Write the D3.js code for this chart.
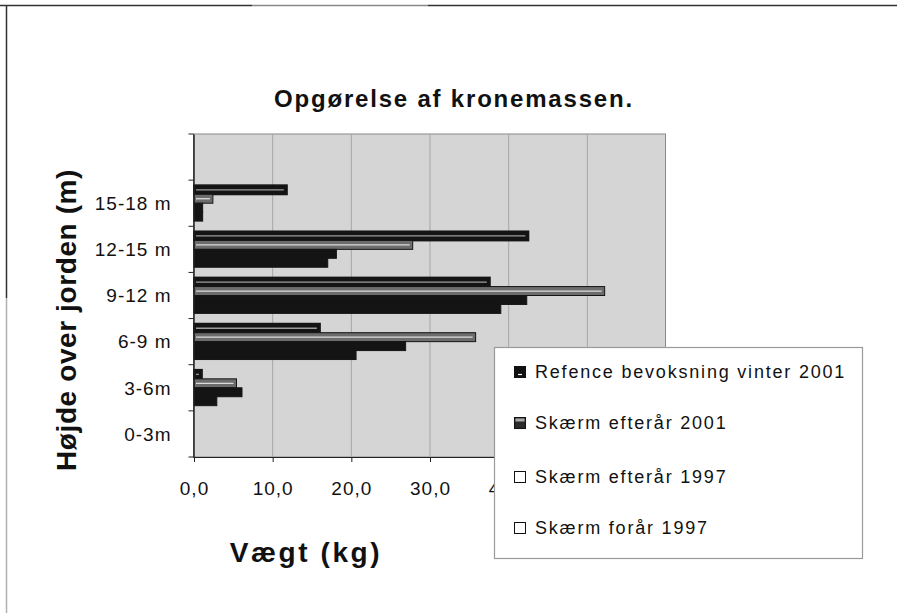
<!DOCTYPE html>
<html lang="da">
<head>
<meta charset="utf-8">
<title>Opgørelse af kronemassen</title>
<style>
  body { margin:0; background:#fff; }
  svg text { font-family:"Liberation Sans", Arial, sans-serif; fill:#111; }
  .tick text { font-size:19px; letter-spacing:1px; }
  .legend text { font-size:18px; letter-spacing:1.8px; }
</style>
</head>
<body>
<svg id="chart" width="897" height="613"></svg>
<script src="https://cdnjs.cloudflare.com/ajax/libs/d3/7.8.5/d3.min.js"></script>
<script>
// categories from top to bottom (top band is empty, as in the original)
var categories = ["", "15-18 m", "12-15 m", "9-12 m", "6-9 m", "3-6m", "0-3m"];

// series values, same order as categories
var refence2001   = [null, 1.1, 17.0, 39.0, 20.6, 2.9, 0];
var skaermEft2001 = [null, 1.1, 18.1, 42.3, 26.9, 6.1, 0];
var skaermEft1997 = [null, 2.4, 27.8, 52.2, 35.8, 5.4, 0];
var skaermFor1997 = [null, 11.8, 42.5, 37.6, 16.0, 1.0, 0];

var seriesNames = ["Refence bevoksning vinter 2001", "Skærm efterår 2001", "Skærm efterår 1997", "Skærm forår 1997"];
var xTicks = [0, 10, 20, 30, 40, 50, 60];

var svg = d3.select("#chart");

// outer frame, scanned so partly faded
svg.append("line").attr("x1", 0).attr("x2", 252).attr("y1", 5.5).attr("y2", 5.5).attr("stroke", "#333").attr("stroke-width", 1.5);
svg.append("line").attr("x1", 252).attr("x2", 428).attr("y1", 5.5).attr("y2", 5.5).attr("stroke", "#888").attr("stroke-width", 1.5);
svg.append("line").attr("x1", 428).attr("x2", 897).attr("y1", 5.5).attr("y2", 5.5).attr("stroke", "#333").attr("stroke-width", 1.5);
svg.append("line").attr("x1", 6.5).attr("x2", 6.5).attr("y1", 5).attr("y2", 298).attr("stroke", "#333").attr("stroke-width", 1.5);
svg.append("line").attr("x1", 6.5).attr("x2", 6.5).attr("y1", 298).attr("y2", 613).attr("stroke", "#b0b0b0").attr("stroke-width", 1.5);

var plotLeft = 193.5, plotRight = 665.5, plotTop = 134, plotBottom = 457;

var x = d3.scaleLinear().domain([0, 60]).range([194, 666]);
var y = d3.scaleBand().domain(categories).range([plotTop, plotBottom]).padding(0);

// bars in each group, top to bottom
var barKeys = [3, 2, 1, 0];
var inner = d3.scaleBand().domain(barKeys).range([0, y.bandwidth()]).paddingInner(0).paddingOuter(0.58);

var values = [refence2001, skaermEft2001, skaermEft1997, skaermFor1997];

// plot area
svg.append("rect")
  .attr("x", plotLeft).attr("y", plotTop)
  .attr("width", plotRight - plotLeft).attr("height", plotBottom - plotTop)
  .attr("fill", "#d5d5d5").attr("stroke", "#8a8a8a").attr("stroke-width", 1);

// vertical grid lines
svg.append("g").selectAll("line")
  .data(xTicks.slice(1, -1))
  .enter().append("line")
  .attr("x1", function(d){ return x(d); })
  .attr("x2", function(d){ return x(d); })
  .attr("y1", plotTop).attr("y2", plotBottom)
  .attr("stroke", "#a5a5a5").attr("stroke-width", 1);

// bars
var rows = [];
categories.forEach(function(c, ci){
  barKeys.forEach(function(s){
    var v = values[s][ci];
    if (v) rows.push({cat: c, s: s, v: v});
  });
});

var bars = svg.append("g");
bars.selectAll("rect")
  .data(rows)
  .enter().append("rect")
  .attr("x", x(0))
  .attr("y", function(d){ return y(d.cat) + inner(d.s); })
  .attr("width", function(d){ return x(d.v) - x(0); })
  .attr("height", inner.bandwidth())
  .attr("fill", function(d){ return d.s === 2 ? "#6c6c6c" : "#141414"; })
  .attr("stroke", "#151515")
  .attr("stroke-width", function(d){ return d.s === 3 ? 2 : 1; });

// light inner line on the two upper bars
bars.selectAll("line")
  .data(rows.filter(function(d){ return d.s >= 2 && x(d.v) - x(0) > 6; }))
  .enter().append("line")
  .attr("x1", x(0) + 2)
  .attr("x2", function(d){ return x(d.v) - 3; })
  .attr("y1", function(d){ return y(d.cat) + inner(d.s) + inner.bandwidth() / 2; })
  .attr("y2", function(d){ return y(d.cat) + inner(d.s) + inner.bandwidth() / 2; })
  .attr("stroke", function(d){ return d.s === 3 ? "#9c9c9c" : "#dcdcdc"; })
  .attr("stroke-width", 1.3);

// x axis
var xAxis = d3.axisBottom(x)
  .tickValues(xTicks)
  .tickSize(5)
  .tickPadding(20)
  .tickFormat(function(d){ return d3.format(".1f")(d).replace(".", ","); });
var gx = svg.append("g")
  .attr("transform", "translate(0," + plotBottom + ")")
  .call(xAxis);
gx.select(".domain").attr("stroke", "#222").attr("d", "M" + plotLeft + ",0.5H" + plotRight);
gx.selectAll(".tick line").attr("stroke", "#222");

// y axis: labels in band centres, ticks on the band edges
var yAxis = d3.axisLeft(y).tickSize(0).tickPadding(22);
var gy = svg.append("g")
  .attr("transform", "translate(" + plotLeft + ",0)")
  .call(yAxis);
gy.select(".domain").attr("stroke", "#222").attr("stroke-width", 1.5);
gy.selectAll(".tick text").attr("dy", "0.36em");
svg.append("g").selectAll("line")
  .data(categories.map(function(c){ return y(c); }).concat([plotBottom]))
  .enter().append("line")
  .attr("x1", plotLeft - 5).attr("x2", plotLeft)
  .attr("y1", function(d){ return d; }).attr("y2", function(d){ return d; })
  .attr("stroke", "#222");

// titles
svg.append("text")
  .attr("x", 454).attr("y", 107)
  .attr("text-anchor", "middle")
  .style("font-size", "24px").style("font-weight", "bold").style("letter-spacing", "1.8px")
  .text("Opgørelse af kronemassen.");

svg.append("text")
  .attr("transform", "translate(76,320) rotate(-90)")
  .attr("text-anchor", "middle")
  .style("font-size", "28px").style("font-weight", "bold").style("letter-spacing", "0.6px")
  .text("Højde over jorden (m)");

svg.append("text")
  .attr("x", 306).attr("y", 562)
  .attr("text-anchor", "middle")
  .style("font-size", "28px").style("font-weight", "bold").style("letter-spacing", "2.6px")
  .text("Vægt (kg)");

// legend box, drawn over the plot like in the original
var legend = svg.append("g").attr("class", "legend");
legend.append("rect")
  .attr("x", 494.5).attr("y", 347.5).attr("width", 368).attr("height", 211)
  .attr("fill", "#fff").attr("stroke", "#9a9a9a").attr("stroke-width", 1.2);

var legendY = [372, 423, 477, 528];
var item = legend.selectAll("g.item")
  .data(seriesNames)
  .enter().append("g")
  .attr("class", "item")
  .attr("transform", function(d, i){ return "translate(514," + legendY[i] + ")"; });

item.append("rect")
  .attr("x", 0.5).attr("y", -5.5).attr("width", 11).attr("height", 11)
  .attr("fill", function(d, i){ return i === 0 ? "#111" : i === 1 ? "#2a2a2a" : "#fff"; })
  .attr("stroke", "#111").attr("stroke-width", 1);
item.filter(function(d, i){ return i === 0; }).append("line")
  .attr("x1", 4).attr("x2", 8).attr("y1", 2.5).attr("y2", 2.5)
  .attr("stroke", "#fff").attr("stroke-width", 1.2);
item.filter(function(d, i){ return i === 1; }).append("rect")
  .attr("x", 1.5).attr("y", -4.5).attr("width", 9).attr("height", 3)
  .attr("fill", "#aaa");

item.append("text")
  .attr("x", 21).attr("dy", "0.36em")
  .text(function(d){ return d; });
</script>
</body>
</html>
